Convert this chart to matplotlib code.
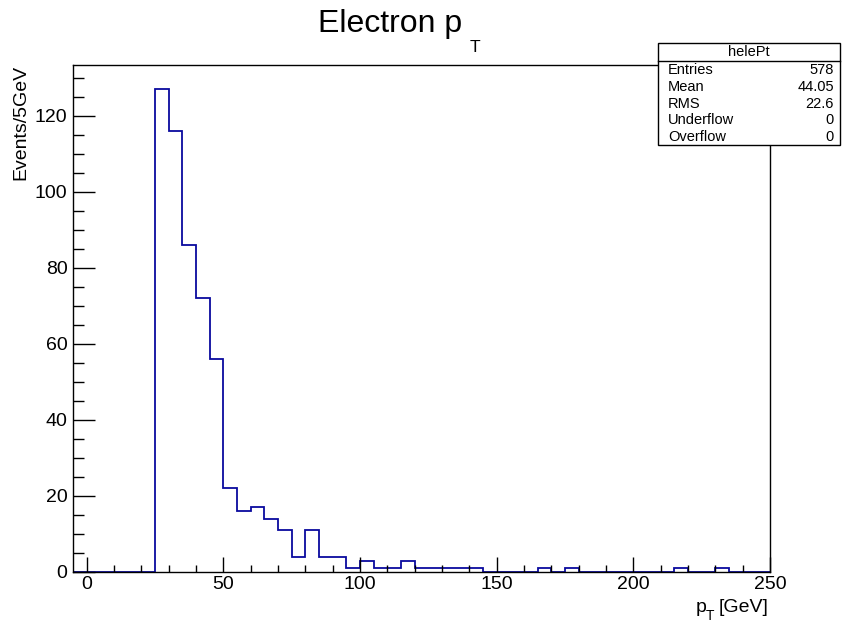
import numpy as np
import matplotlib
matplotlib.use('Agg')
import matplotlib.pyplot as plt
from matplotlib.patches import Rectangle
from matplotlib.lines import Line2D
from matplotlib.ticker import MultipleLocator

plt.rcParams['font.family'] = ['Liberation Sans', 'DejaVu Sans']

# ---- data ----
bin_edges = np.arange(-5, 255, 5)          # 51 bins of 5 GeV, -5 .. 250
counts = [0, 0, 0, 0, 0, 0,                 # -5 .. 25
          127, 116, 86, 72, 56,             # 25 .. 50
          22, 16, 17, 14, 11,               # 50 .. 75
          4, 11, 4, 4, 1,                   # 75 .. 100
          3, 1, 1, 3, 1,                    # 100 .. 125
          1, 1, 1, 1, 0,                    # 125 .. 150
          0, 0, 0, 1, 0,                    # 150 .. 175
          1, 0, 0, 0, 0,                    # 175 .. 200
          0, 0, 0, 1, 0,                    # 200 .. 225
          0, 1, 0, 0, 0]                    # 225 .. 250
x_ticks = [0, 50, 100, 150, 200, 250]
y_ticks = [0, 20, 40, 60, 80, 100, 120]
stat_name = "helePt"
stat_labels = ["Entries", "Mean", "RMS", "Underflow", "Overflow"]
stat_values = ["578", "44.05", "22.6", "0", "0"]

W, H = 844, 628
fig = plt.figure(figsize=(W / 100, H / 100), dpi=100)
fig.patch.set_facecolor('white')

L, R, T, B = 73, 770, 65, 572
ax = fig.add_axes([L / W, 1 - B / H, (R - L) / W, (B - T) / H])

ax.stairs(counts, bin_edges, baseline=0, fill=False, color='#0a0a9e', linewidth=1.3)

ax.set_xlim(bin_edges[0], bin_edges[-1])
ax.set_ylim(0, 1.05 * max(counts))

ax.set_xticks(x_ticks)
ax.set_yticks(y_ticks)
ax.xaxis.set_minor_locator(MultipleLocator(10))
ax.yaxis.set_minor_locator(MultipleLocator(5))
ax.tick_params(axis='both', which='both', direction='in', top=False, right=False,
               width=1.0, color='black', labelsize=14)
ax.tick_params(axis='x', which='major', length=10.5, pad=3)
ax.tick_params(axis='x', which='minor', length=5)
ax.tick_params(axis='y', which='major', length=16, pad=4)
ax.tick_params(axis='y', which='minor', length=8)
for s in ax.spines.values():
    s.set_linewidth(1.0)
    s.set_color('black')

# Title "Electron p_T"
fig.text(318 / W, 1 - 32 / H, "Electron p", fontsize=23, ha='left', va='baseline')
fig.text(470 / W, 1 - 52 / H, "T", fontsize=12.5, ha='left', va='baseline')

# Y label
fig.text(21 / W, 1 - 65 / H, "Events/5GeV", fontsize=14, rotation=90,
         ha='center', va='top')

# X label "p_T [GeV]"
fig.text(769 / W, 1 - 612 / H, "[GeV]", fontsize=14, ha='right', va='baseline')
fig.text(714 / W, 1 - 620 / H, "T", fontsize=10, ha='right', va='baseline')
fig.text(707 / W, 1 - 612 / H, "p", fontsize=14, ha='right', va='baseline')

# Stats box
bx0, bx1, by0, by1, bhd = 658, 840, 43, 145, 61
fig.add_artist(Rectangle((bx0 / W, 1 - by1 / H), (bx1 - bx0) / W, (by1 - by0) / H,
                         transform=fig.transFigure, facecolor='white',
                         edgecolor='black', linewidth=1.0, zorder=5))
fig.add_artist(Line2D([bx0 / W, bx1 / W], [1 - bhd / H, 1 - bhd / H],
                      transform=fig.transFigure, color='black', linewidth=1.0, zorder=6))
fig.text((bx0 + bx1) / 2 / W, 1 - 52 / H, stat_name, fontsize=10.5,
         ha='center', va='center', zorder=7)
row_y = [70, 87, 103.5, 120, 137]
for lab, val, yy in zip(stat_labels, stat_values, row_y):
    fig.text(668 / W, 1 - yy / H, lab, fontsize=10.5, ha='left', va='center', zorder=7)
    fig.text(834 / W, 1 - yy / H, val, fontsize=10.5, ha='right', va='center', zorder=7)

fig.savefig('out.png', dpi=100)
